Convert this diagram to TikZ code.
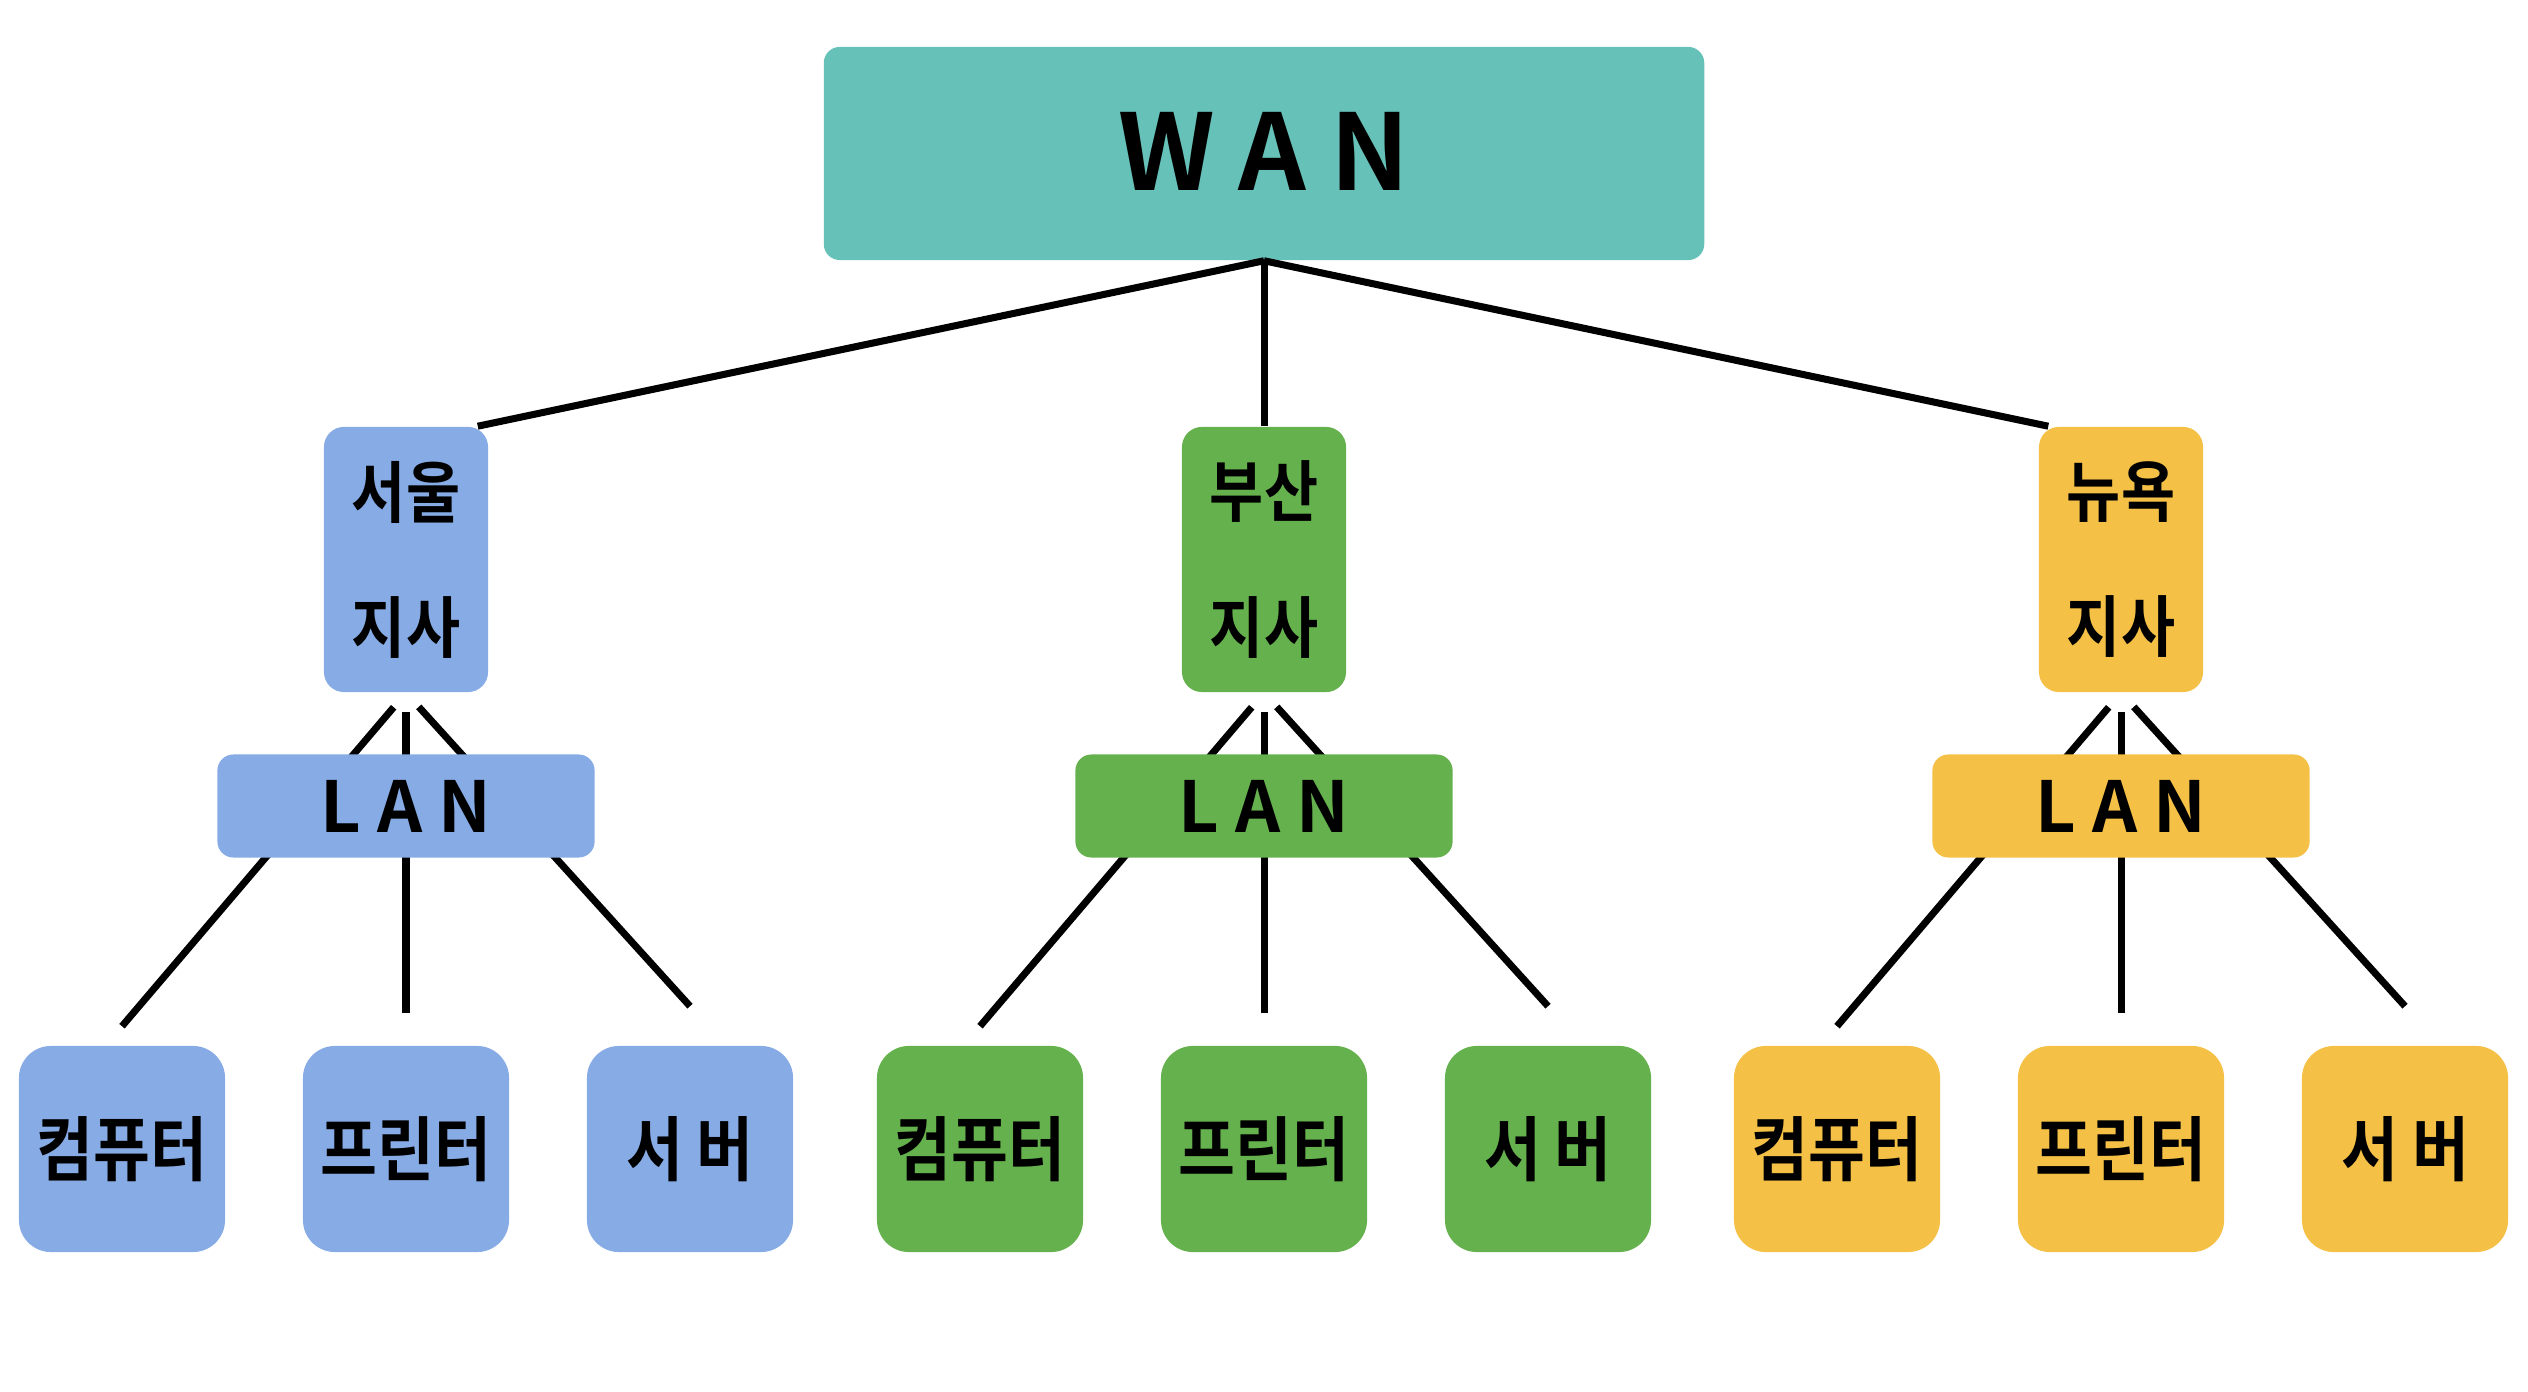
\documentclass[tikz,border=0pt]{standalone}
\usepackage{fontspec}
\setmainfont{Noto Sans CJK KR}[BoldFont={* Bold}]
\usepackage{tikz}
\usetikzlibrary{positioning}
\definecolor{wanteal}{HTML}{66C2B8}
\definecolor{lanblue}{HTML}{86ABE5}
\definecolor{langreen}{HTML}{65B14D}
\definecolor{lanyellow}{HTML}{F4C046}
% narrow hangul
\newcommand{\kr}[1]{\scalebox{0.88}[1]{#1}}

\begin{document}
\begin{tikzpicture}[x=0.01cm,y=-0.01cm,
every node/.style = {align=center, text centered, inner sep=0pt},
wanbox/.style={fill=wanteal, rounded corners=0.16cm, minimum width=8.8cm,
    minimum height=2.13cm, font=\bfseries\fontsize{30}{30}\selectfont},
sitebox/.style={rounded corners=0.2cm, minimum width=1.64cm,
    minimum height=2.65cm, font=\bfseries\fontsize{19}{37}\selectfont},
lanbox/.style={rounded corners=0.16cm, minimum width=3.77cm,
    minimum height=1.03cm, font=\bfseries\fontsize{20}{20}\selectfont},
devbox/.style={rounded corners=0.32cm, minimum size=2.06cm,
    font=\bfseries\fontsize{20}{20}\selectfont},
link/.style={black,line width=2pt}]
\useasboundingbox (0,0) rectangle (2528,1392);
\node[wanbox] (wan) at (1264,153.5) {\raisebox{1.4pt}{W A N}};
\foreach \g/\cx/\col/\site in {sl/406/lanblue/서울, bs/1264/langreen/부산, ny/2121/lanyellow/뉴욕}{
  \node[sitebox, fill=\col] (\g) at (\cx,559.5) {\raisebox{1.4pt}{\kr{\site}}\\\kr{지사}};
  \node[devbox, fill=\col] (\g-pc) at (\cx-284,1149) {\kr{컴퓨터}};
  \node[devbox, fill=\col] (\g-pr) at (\cx,1149) {\kr{프린터}};
  \node[devbox, fill=\col] (\g-sv) at (\cx+284,1149) {\kr{서 버}};
  % lines run under the LAN box
  \draw[link, shorten <=0.19cm] (\g.south) -- ([yshift=0.19cm]\g-pc.north);
  \draw[link, shorten <=0.19cm] (\g.south) -- ([yshift=0.32cm]\g-pr.north);
  \draw[link, shorten <=0.19cm] (\g.south) -- ([yshift=0.39cm]\g-sv.north);
  \node[lanbox, fill=\col] (\g-lan) at (\cx,806) {L A N};
}
\draw[link] (wan.south) -- (bs.north);
\draw[link] (wan.south) -- ([xshift=-0.11cm]sl.north east);
\draw[link] (wan.south) -- ([xshift=0.1cm]ny.north west);
\end{tikzpicture}
\end{document}
